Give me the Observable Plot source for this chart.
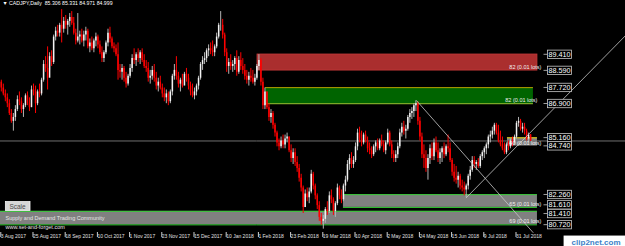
<!DOCTYPE html>
<html><head><meta charset="utf-8">
<script src="https://cdn.jsdelivr.net/npm/d3@7"></script>
<script src="https://cdn.jsdelivr.net/npm/@observablehq/plot@0.6"></script>
<style>html,body{margin:0;padding:0;background:#000;overflow:hidden}</style>
</head><body>
<script>
// ---- data (CADJPY daily, bar index 0 = 3 Aug 2017) ----
const closes=[
88.0,87.7,87.4,87.2,86.9,86.4,86.0,86.2,86.6,87.1,
87.0,86.6,86.8,87.3,86.9,86.7,87.6,87.5,86.9,87.5,
87.4,88.1,88.9,88.7,88.2,89.3,89.0,90.3,90.6,90.5,
90.9,90.7,91.1,90.9,91.1,91.3,91.0,90.5,90.1,90.3,
90.4,90.1,90.4,90.6,89.8,90.0,89.7,90.1,90.3,89.9,
89.5,89.2,89.5,90.0,90.5,90.2,89.8,89.7,89.4,88.6,
88.5,88.7,88.2,87.9,88.3,88.7,89.2,89.1,89.4,89.2,
89.5,89.1,88.8,88.7,88.2,88.3,88.6,88.2,87.8,88.0,
87.7,87.4,87.2,87.4,87.0,87.5,88.3,88.6,88.3,87.9,
88.1,87.8,88.4,88.2,87.8,87.5,87.3,87.5,87.8,88.2,
88.9,89.1,89.2,89.6,89.7,89.6,89.5,89.8,90.3,90.9,
90.9,90.4,89.5,88.8,89.0,88.8,88.9,89.2,88.5,89.1,
88.8,88.6,88.3,88.1,88.3,88.2,88.0,88.2,88.8,89.1,
88.0,86.8,87.5,86.7,86.2,86.4,85.8,85.4,84.9,84.7,
85.0,84.8,85.1,85.2,84.5,84.1,84.4,83.9,83.6,83.1,
82.6,81.6,82.3,82.1,82.4,83.3,82.7,82.2,81.7,81.1,
80.9,81.0,81.5,81.4,82.2,82.0,81.4,81.8,82.6,82.2,
82.0,82.7,83.0,83.8,84.1,83.8,84.0,84.7,85.4,85.1,
84.9,85.3,85.0,84.6,84.5,84.3,84.7,84.9,84.6,85.0,
84.8,84.5,84.9,85.4,84.8,84.3,84.1,84.3,84.7,85.4,
85.7,85.5,85.6,86.2,86.4,86.5,86.8,86.9,86.0,85.2,
84.3,84.1,83.6,84.1,84.6,84.2,84.9,84.5,84.1,84.4,
84.6,84.3,84.7,84.6,84.0,83.4,83.1,83.0,83.2,82.7,
82.6,82.5,82.7,83.2,83.5,84.0,83.8,83.9,83.7,84.2,
84.4,84.6,84.8,85.2,85.3,85.5,85.8,85.4,85.0,84.8,
84.6,84.4,84.8,84.7,85.0,84.9,85.2,85.9,86.0,85.6,
85.7,85.5,85.1,85.3,84.999];
const highs=[
88.2,88.1,87.9,87.6,87.4,87.1,86.6,86.4,86.8,87.3,
87.5,87.2,86.9,87.4,87.5,87.2,87.8,87.9,87.8,87.6,
87.9,88.2,89.1,89.3,89.8,89.5,89.6,90.4,90.8,90.9,
91.0,91.7,91.3,91.4,91.2,91.5,91.6,91.3,90.7,91.5,
90.6,90.7,90.6,90.8,90.7,90.2,90.3,90.2,90.5,90.4,
90.1,89.8,89.6,90.1,90.7,90.8,90.3,90.0,89.9,90.0,
88.9,88.9,88.8,88.5,88.4,88.9,89.4,89.7,89.5,89.7,
89.6,89.7,89.4,89.1,89.0,88.6,88.8,88.9,88.5,88.2,
88.3,87.9,87.7,87.6,87.5,87.6,88.4,88.9,89.3,88.5,
88.2,88.4,88.5,88.7,88.4,88.0,87.9,87.7,87.9,88.3,
89.0,89.3,89.5,89.7,89.9,90.0,90.1,89.9,90.5,91.0,
91.6,91.2,90.5,89.7,89.2,89.4,89.1,89.3,89.6,89.3,
89.5,89.2,88.9,88.6,88.5,88.7,88.6,88.4,88.9,89.4,
89.2,88.2,87.7,87.5,86.9,86.6,86.5,85.9,85.5,85.1,
85.2,85.3,85.3,85.4,85.2,84.8,84.6,84.6,84.2,83.8,
83.3,82.7,82.5,82.6,82.6,83.5,83.4,82.8,82.3,81.9,
81.3,81.2,81.6,81.9,82.4,82.5,82.1,81.9,82.8,82.7,
82.5,82.8,83.2,84.0,84.3,84.4,84.2,84.9,85.6,85.7,
85.5,85.4,85.5,85.2,84.9,84.7,84.8,85.0,85.1,85.1,
85.3,85.0,85.0,85.6,85.5,85.0,84.5,84.5,84.9,85.6,
85.9,86.0,85.8,86.3,86.6,86.7,86.9,87.05,87.0,86.2,
85.4,84.8,84.5,84.3,84.8,84.9,85.1,85.2,84.9,84.6,
84.7,84.9,84.8,85.3,84.9,84.1,83.8,83.7,83.4,83.3,
83.0,82.9,82.8,83.3,83.7,84.2,84.2,84.0,84.1,84.3,
84.5,84.7,84.9,85.3,85.5,85.7,85.9,85.9,85.8,85.5,
85.2,84.9,84.9,85.0,85.1,85.2,85.3,86.0,86.2,86.1,
85.9,85.9,85.6,85.4,85.331];
const lows=[
87.6,87.5,87.3,87.0,86.7,86.3,85.9,85.5,86.0,86.5,
86.8,86.4,86.2,86.7,86.8,86.5,86.7,87.3,86.4,86.8,
87.2,87.3,88.0,88.5,87.6,88.6,88.8,88.9,90.1,90.3,
90.3,90.0,90.5,90.7,90.4,90.8,90.9,90.4,89.9,90.0,
89.9,90.0,89.8,90.1,89.7,89.5,89.6,89.5,89.8,89.7,
89.4,89.0,89.0,89.4,89.8,90.0,89.7,89.5,89.3,88.1,
88.2,88.1,88.0,87.7,87.8,88.2,88.5,88.9,88.8,89.0,
88.9,89.0,88.7,88.5,88.0,87.9,88.1,88.0,87.6,87.5,
87.6,87.2,87.0,86.9,86.8,86.9,87.3,88.1,88.1,87.7,
87.5,87.7,87.9,88.0,87.6,87.3,87.2,87.1,87.3,87.6,
88.1,88.6,88.9,89.0,89.3,89.4,89.3,89.3,89.7,90.2,
90.6,90.2,89.3,88.5,88.4,88.6,88.5,88.6,88.3,88.4,
88.6,88.4,88.1,87.9,87.8,88.0,87.9,87.8,88.1,88.6,
87.8,86.6,86.6,86.6,86.0,85.9,85.6,85.2,84.7,84.5,
84.6,84.6,84.6,84.9,84.4,83.9,83.8,83.7,83.4,82.9,
82.4,81.3,81.6,81.9,81.8,82.3,82.5,82.0,81.5,80.9,
80.7,80.5,80.8,81.2,81.3,81.8,81.2,81.1,81.7,82.0,
81.8,81.9,82.4,82.9,83.5,83.6,83.6,83.9,84.5,84.9,
84.7,84.8,84.9,84.4,84.3,84.1,84.2,84.4,84.5,84.5,
84.7,84.4,84.3,84.8,84.7,84.1,83.9,83.9,84.1,84.6,
85.2,85.3,85.1,85.5,85.9,86.1,86.2,86.5,85.8,85.0,
84.1,83.6,83.4,83.0,83.8,84.0,84.0,84.4,83.9,83.8,
83.9,84.1,84.2,84.4,83.9,83.2,82.9,82.8,82.6,82.5,
82.4,82.2,82.1,82.5,83.0,83.4,83.6,83.5,83.6,83.6,
84.0,84.1,84.3,84.6,84.9,85.1,85.3,85.3,84.9,84.7,
84.5,84.3,84.3,84.5,84.6,84.7,84.8,85.1,85.7,85.5,
85.4,85.3,85.0,84.9,84.971];
const firstOpen = 87.8;
const symbolName = "CADJPY,Daily";
const lastQuote = [85.306, 85.331, 84.971, 84.999]; // open high low close of the last bar
const bidPrice = 84.999;

const tickIdx = [0,16,32,48,64,80,96,112,128,144,160,176,192,208,224,240,256];
const tickLabels = ["3 Aug 2017","25 Aug 2017","18 Sep 2017","10 Oct 2017","1 Nov 2017","23 Nov 2017",
  "15 Dec 2017","10 Jan 2018","1 Feb 2018","23 Feb 2018","19 Mar 2018","10 Apr 2018","2 May 2018",
  "24 May 2018","15 Jun 2018","9 Jul 2018","31 Jul 2018"];

// zones: supply, demand, small, demand 2, demand 3
const zoneTop   = [89.41, 87.72, 85.16, 82.26, 81.41];
const zoneBot   = [88.59, 86.90, 84.74, 81.61, 80.72];
const zoneStart = [128.3, 132.3, 252.5, 171.0, 0.6];
const zoneEnd   = [267.4, 265.4, 267.4, 267.4, 267.4];
const zoneLots  = ["82 (0.01 lots)","82 (0.01 lots)","40 (0.01 lots)","65 (0.01 lots)","69 (0.01 lots)"];
const priceLabels = [89.41, 88.59, 87.72, 86.90, 85.16, 84.74, 82.26, 80.72];
const closeLabelsUpper = [81.61];
const closeLabelsLower = [81.41];

// trend lines (bar index, price)
const trendA_i = [207.4, 265.2], trendA_p = [87.05, 80.33];
const trendB_i = [232.0, 311.2], trendB_p = [82.10, 90.38];

const xDomain = [0.6, 271.4];
const yDomain = [80.33, 92.165];
const rightEdgeIdx = 311.2;

// ---- build ----
const n = closes.length;
const bars = closes.map((c,i)=>({i, c, h: highs[i], l: lows[i],
  o: i===n-1 ? lastQuote[0] : (i===0 ? firstOpen : closes[i-1])}));
const up = bars.filter(d=>d.c>=d.o), down = bars.filter(d=>d.c<d.o);
const zones = zoneTop.map((t,k)=>({k, t, b: zoneBot[k], s: zoneStart[k], e: zoneEnd[k], lots: zoneLots[k]}));
const tA = trendA_i.map((i,k)=>({i, p: trendA_p[k]}));
const tB = trendB_i.map((i,k)=>({i, p: trendB_p[k]}));
const titleLine = "\u25BC " + symbolName + "  " + lastQuote.map(q=>q.toFixed(3)).join(" ");
const FONT = "'Liberation Sans', Arial, sans-serif";
const priceLabelOpts = {y: d=>d, text: d=>d.toFixed(3), frameAnchor:"right", textAnchor:"start", dx:3, fill:"#fff", fontSize:7.2};

const chart = Plot.plot({
  width: 625, height: 246,
  marginTop: 0, marginRight: 80, marginBottom: 14, marginLeft: 0,
  style: {background: "#000", color: "#fff", fontFamily: FONT, fontSize: "5px", overflow: "visible"},
  x: {domain: xDomain},
  y: {domain: yDomain, axis: null},
  marks: [
    // zones
    Plot.rect(zones.filter(z=>z.k===0), {x1:"s", x2:"e", y1:"b", y2:"t", fill:"#aa2e2e", stroke:"#c23a3a", strokeWidth:0.8}),
    Plot.rect(zones.filter(z=>z.k===1), {x1:"s", x2:"e", y1:"b", y2:"t", fill:"#006400"}),
    Plot.ruleY(zones.filter(z=>z.k===1), {x1:"s", x2:"e", y:"t", stroke:"#b89c00", strokeWidth:1}),
    Plot.ruleY(zones.filter(z=>z.k===1), {x1:"s", x2:"e", y:"b", stroke:"#9acd32", strokeWidth:1}),
    Plot.rect(zones.filter(z=>z.k>=2), {x1:"s", x2:"e", y1:"b", y2:"t", fill:"#808080"}),
    Plot.ruleY(zones.filter(z=>z.k>=3), {x1:"s", x2:"e", y:"t", stroke:"#33cc33", strokeWidth:1}),
    Plot.ruleY(zones.filter(z=>z.k>=3), {x1:"s", x2:"e", y:"b", stroke:"#33cc33", strokeWidth:1}),
    Plot.ruleY(zones.filter(z=>z.k===2), {x1:"s", x2:"e", y:"t", stroke:"#e6d200", strokeWidth:1}),
    // bid line
    Plot.ruleY([bidPrice], {x1: xDomain[0], x2: rightEdgeIdx, stroke:"#707070", strokeWidth:1}),
    // candles
    Plot.ruleX(up,   {x:"i", y1:"l", y2:"h", stroke:"#b4b4b4", strokeWidth:1}),
    Plot.ruleX(up,   {x:"i", y1:"o", y2:"c", stroke:"#f2f2f2", strokeWidth:1.5}),
    Plot.ruleX(down, {x:"i", y1:"l", y2:"h", stroke:"#ff0000", strokeWidth:1}),
    Plot.ruleX(down, {x:"i", y1:"o", y2:"c", stroke:"#ff0000", strokeWidth:1.5}),
    // trend lines
    Plot.line(tA, {x:"i", y:"p", stroke:"#c8c8c8", strokeWidth:0.8}),
    Plot.line(tB, {x:"i", y:"p", stroke:"#c8c8c8", strokeWidth:0.8}),
    // zone lot labels
    Plot.text(zones, {x:"e", y:"b", text:"lots", textAnchor:"end", lineAnchor:"bottom", dx:4, dy:-1.5, fill:"#f0f0f0", fontSize:5.5}),
    // right price labels
    Plot.text(priceLabels, priceLabelOpts),
    Plot.text(closeLabelsUpper, {...priceLabelOpts, dy:-2.4}),
    Plot.text(closeLabelsLower, {...priceLabelOpts, dy:2.4}),
    // date axis
    Plot.axisX({ticks: tickIdx, tickFormat: d => tickLabels[tickIdx.indexOf(d)], tickSize: 5, tickPadding: -3,
      textAnchor: "start", dx: 1.5, fontSize: 5, stroke: "#d0d0d0", fill: "#e0e0e0", label: null}),
    // chart title
    Plot.text([titleLine], {frameAnchor:"top-left", dx:2, dy:1, lineAnchor:"top", textAnchor:"start", fill:"#fff", fontSize:5.2}),
    // watermark texts
    Plot.text(["Supply and Demand Trading Community"], {frameAnchor:"bottom-left", dx:5, dy:-14, textAnchor:"start", lineAnchor:"middle", fill:"#e6e6e6", fontSize:5.5}),
    Plot.text(["www.set-and-forget.com"], {frameAnchor:"bottom-left", dx:5, dy:-5.5, textAnchor:"start", lineAnchor:"middle", fill:"#e6e6e6", fontSize:5.5}),
    Plot.text(["Scale"], {frameAnchor:"bottom-left", dx:17, dy:-26, textAnchor:"middle", lineAnchor:"middle", fill:"#4a4a4a", fontSize:6.5}),
    Plot.text(["clip2net.com"], {frameAnchor:"bottom-right", dx:75, dy:9.5, textAnchor:"end", lineAnchor:"middle", fill:"#3c7fc8", fontSize:8, fontWeight:"bold"})
  ]
});
document.body.append(chart);

// boxes behind some texts (price labels, button, logo)
const NS = "http://www.w3.org/2000/svg";
chart.querySelectorAll("text").forEach(t => {
  const s = t.textContent;
  let style = null;
  if (/^\d\d\.\d{3}$/.test(s)) style = {fill:"#000", stroke:"#c8c8c8", padX:1, padY:-0.3, dash:true};
  else if (s === "Scale") style = {fill:"#d6d6d6", stroke:"#f6f6f6", padX:4, padY:1, dash:false};
  else if (s === "clip2net.com") style = {fill:"#fff", stroke:"none", padX:8, padY:2, dash:false};
  if (!style) return;
  const bb = t.getBBox();
  const tr = t.getAttribute("transform");
  const r = document.createElementNS(NS, "rect");
  r.setAttribute("x", bb.x - style.padX); r.setAttribute("y", bb.y - style.padY);
  r.setAttribute("width", bb.width + 2*style.padX); r.setAttribute("height", bb.height + 2*style.padY);
  r.setAttribute("fill", style.fill); r.setAttribute("stroke", style.stroke); r.setAttribute("stroke-width", 0.8);
  if (tr) r.setAttribute("transform", tr);
  t.parentNode.insertBefore(r, t);
  if (style.dash) {
    const l = document.createElementNS(NS, "line");
    l.setAttribute("x1", bb.x - 5); l.setAttribute("x2", bb.x - 1);
    l.setAttribute("y1", bb.y + bb.height/2); l.setAttribute("y2", bb.y + bb.height/2);
    l.setAttribute("stroke", "#c8c8c8"); l.setAttribute("stroke-width", 0.8);
    if (tr) l.setAttribute("transform", tr);
    t.parentNode.insertBefore(l, t);
  }
});
</script>
</body></html>
